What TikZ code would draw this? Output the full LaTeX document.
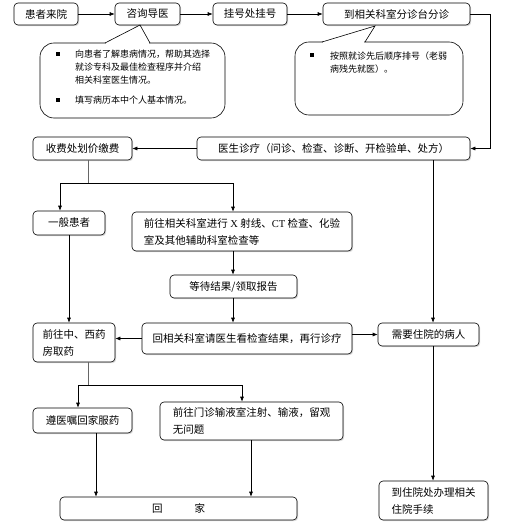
\documentclass[tikz,border=0pt]{standalone}
\usepackage{fontspec}
\setmainfont{Noto Sans CJK SC}
\newfontfamily\tms{Liberation Serif}
\usetikzlibrary{arrows.meta,shadows,calc}
\tikzset{
  box/.style={draw=black, line width=0.6pt, rounded corners=4pt, fill=white, inner sep=0pt,
    font=\fontsize{10.5}{17}\selectfont, text=black,
    drop shadow={shadow xshift=1.2pt, shadow yshift=-1.2pt, fill=black!15, opacity=1}},
  arr/.style={-{Latex[length=5pt,width=4pt]}, line width=0.6pt},
  ln/.style={line width=0.6pt},
  bubble/.style={draw=black, line width=0.6pt, rounded corners=14pt},
  btext/.style={font=\fontsize{9}{13}\selectfont, anchor=west, align=left, inner sep=0pt, text=black},
}
\begin{document}
\begin{tikzpicture}[x=1pt, y=-1pt]
\useasboundingbox (0,0) rectangle (510,522);
% top row
\node[box, minimum width=64pt, minimum height=22pt] (p1) at (46,14) {患者来院};
\node[box, minimum width=65pt, minimum height=22pt] (p2) at (147.5,14) {咨询导医};
\node[box, minimum width=74pt, minimum height=22pt] (p3) at (250,14) {挂号处挂号};
\node[box, minimum width=147pt, minimum height=22pt] (p4) at (396.5,14) {到相关科室分诊台分诊};
% second row
\node[box, minimum width=99pt, minimum height=23pt] (fee) at (82.5,148.5) {收费处划价缴费};
\node[box, minimum width=273pt, minimum height=23pt] (doc) at (333.5,148.5) {医生诊疗（问诊、检查、诊断、开检验单、处方）};
% third
\node[box, minimum width=72pt, minimum height=24pt] (gen) at (69,223) {一般患者};
\node[box, minimum width=220pt, minimum height=39pt, align=left] (exam) at (242,231.5) {前往相关科室进行 {\tms X} 射线、{\tms CT} 检查、化验\\室及其他辅助科室检查等\hspace{86pt}};
\node[box, minimum width=127pt, minimum height=23pt] (wait) at (233.5,286.5) {等待结果/领取报告};
% fourth
\node[box, minimum width=82pt, minimum height=39pt, align=left] (med) at (74,342.5) {前往中、西药\\房取药\hspace{31.5pt}};
\node[box, minimum width=210pt, minimum height=31pt] (back) at (247,338.5) {回相关科室请医生看检查结果，再行诊疗};
\node[box, minimum width=101pt, minimum height=23pt] (hosp) at (428.5,334.5) {需要住院的病人};
% fifth
\node[box, minimum width=99pt, minimum height=25pt] (home1) at (82.5,420.5) {遵医嘱回家服药};
\node[box, minimum width=183pt, minimum height=38pt, align=left] (inf) at (251.5,421) {前往门诊输液室注射、输液，留观\\无问题\hspace{126pt}};
% bottom
\node[box, minimum width=237pt, minimum height=23pt] (home) at (178.5,508.5) {回\hspace{32pt}家};
\node[box, minimum width=109pt, minimum height=39pt, align=left] (admit) at (433.5,500.5) {到住院处办理相关\\住院手续\hspace{42pt}};

% callout 1
\draw[bubble] (40,43) rectangle (225,118);
\fill[white] (105.6,41.5) rectangle (149.4,44.5);
\draw[ln, line join=miter] (105,43) -- (140,25) -- (150,43);
\fill (56,52) rectangle (60,56);
\fill (56,98) rectangle (60,102);
\node[btext] (t1) at (75,67) {向患者了解患病情况，帮助其选择\\就诊专科及最佳检查程序并介绍\\相关科室医生情况。};
\node[btext] (t2) at (75,100) {填写病历本中个人基本情况。};
% callout 2
\draw[bubble] (295,42) rectangle (463,115);
\fill[white] (322.6,40.5) rectangle (364.4,43.5);
\draw[ln, line join=miter] (322,42) -- (375,26) -- (365,42);
\fill (310,53) rectangle (314,57);
\node[btext] (t3) at (330,62.5) {按照就诊先后顺序排号（老弱\\病残先就医）。};

% connectors
\draw[arr] (p1) -- (p2);
\draw[arr] (p2) -- (p3);
\draw[arr] (p3) -- (p4);
\coordinate (r1) at (490,14);
\draw[arr] (p4.east) -- (r1) |- (doc.east);
\draw[arr] (doc.west) -- (fee.east);
\coordinate (s1) at (88,183);
\coordinate (s1l) at (60,183);
\coordinate (s1r) at (233,183);
\draw[ln, draw=black!60] (fee.south -| s1) -- (s1);
\draw[ln] (s1l) -- (s1r);
\draw[arr] (s1l) -- (s1l |- gen.north);
\draw[arr] (s1r) -- (s1r |- exam.north);
\draw[arr] (exam.south -| s1r) -- (wait.north -| s1r);
\draw[arr] (wait.south -| s1r) -- (back.north -| s1r);
\draw[arr] (gen.south) -- (gen.south |- med.north);
\coordinate (d1) at (433,160);
\draw[arr] (doc.south -| d1) -- (hosp.north -| d1);
\draw[arr] (back.west) -- (back.west -| med.east);
\draw[arr] (back.east |- hosp.west) -- (hosp.west);
\coordinate (s2) at (88,385);
\coordinate (s2l) at (78,385);
\coordinate (s2r) at (242,385);
\draw[ln, draw=black!60] (med.south -| s2) -- (s2);
\draw[ln] (s2l) -- (s2r);
\draw[arr] (s2l) -- (s2l |- home1.north);
\draw[arr] (s2r) -- (s2r |- inf.north);
\coordinate (h1) at (96,433);
\coordinate (h2) at (251,440);
\draw[arr] (home1.south -| h1) -- (home.north -| h1);
\draw[arr] (inf.south -| h2) -- (home.north -| h2);
\draw[arr] (hosp.south -| d1) -- (admit.north -| d1);
\end{tikzpicture}
\end{document}
